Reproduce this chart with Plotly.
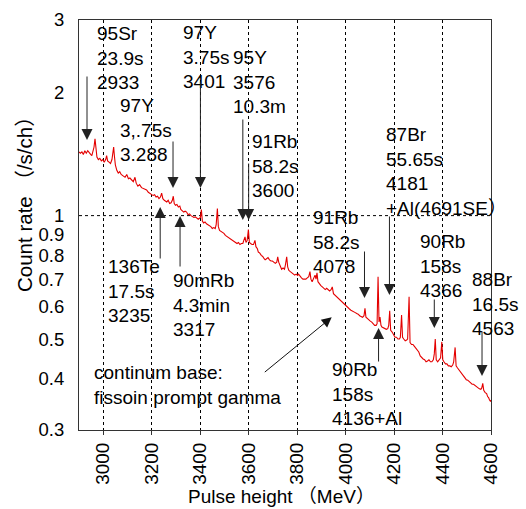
import math
import plotly.graph_objects as go

# Gamma-ray pulse-height spectrum (count rate per channel)
energy = [
    2900, 2906, 2912, 2918, 2924, 2930, 2936, 2942, 2948, 2953, 2958, 2962, 2966, 2970, 2974,
    2980, 2986, 2992, 2998, 3004, 3010, 3014, 3018, 3024, 3030, 3036, 3040, 3043, 3046, 3050,
    3056, 3062, 3068, 3074, 3082, 3090, 3097, 3104, 3110, 3118, 3124, 3131, 3136, 3143, 3150,
    3158, 3164, 3172, 3179, 3186, 3193, 3200, 3206, 3212, 3218, 3224, 3230, 3236, 3241, 3246,
    3252, 3258, 3262, 3268, 3274, 3280, 3285, 3289, 3293, 3298, 3304, 3310, 3316, 3320, 3326,
    3332, 3338, 3344, 3350, 3356, 3362, 3368, 3374, 3380, 3386, 3392, 3397, 3401, 3405, 3409,
    3414, 3420, 3426, 3432, 3438, 3444, 3450, 3456, 3462, 3466, 3471, 3475, 3480, 3486, 3492,
    3498, 3504, 3510, 3516, 3522, 3528, 3534, 3540, 3546, 3552, 3558, 3564, 3570, 3576, 3580,
    3585, 3589, 3594, 3599, 3603, 3608, 3614, 3620, 3626, 3630, 3636, 3640, 3646, 3652, 3658,
    3664, 3668, 3674, 3680, 3686, 3692, 3698, 3704, 3710, 3716, 3720, 3724, 3730, 3736, 3742,
    3748, 3752, 3757, 3761, 3766, 3772, 3778, 3784, 3790, 3796, 3802, 3806, 3812, 3818, 3824,
    3830, 3836, 3842, 3848, 3853, 3857, 3862, 3868, 3874, 3878, 3882, 3886, 3892, 3898, 3904,
    3910, 3916, 3922, 3928, 3934, 3940, 3945, 3950, 3956, 3962, 3968, 3974, 3980, 3986, 3992,
    3998, 4004, 4010, 4016, 4022, 4028, 4034, 4040, 4046, 4052, 4058, 4064, 4070, 4076, 4080,
    4084, 4090, 4096, 4102, 4108, 4114, 4120, 4126, 4130, 4134, 4138, 4142, 4146, 4150, 4156,
    4162, 4168, 4174, 4178, 4182, 4186, 4192, 4198, 4204, 4210, 4216, 4222, 4226, 4231, 4235,
    4240, 4246, 4252, 4256, 4262, 4266, 4272, 4278, 4284, 4290, 4296, 4302, 4308, 4314, 4320,
    4326, 4332, 4338, 4344, 4350, 4356, 4362, 4366, 4370, 4374, 4380, 4386, 4392, 4397, 4401,
    4406, 4412, 4418, 4424, 4430, 4436, 4442, 4446, 4452, 4456, 4462, 4468, 4474, 4480, 4486,
    4492, 4498, 4504, 4510, 4516, 4522, 4528, 4534, 4540, 4546, 4552, 4558, 4562, 4566, 4570,
    4576, 4582, 4586, 4590, 4594, 4598, 4600,
]
count_rate = [
    1.43, 1.42, 1.43, 1.41, 1.44, 1.42, 1.44, 1.42, 1.41, 1.40, 1.43, 1.47, 1.54, 1.44, 1.39,
    1.37, 1.38, 1.36, 1.37, 1.35, 1.37, 1.40, 1.36, 1.35, 1.34, 1.37, 1.43, 1.47, 1.40, 1.33,
    1.29, 1.27, 1.28, 1.26, 1.25, 1.24, 1.26, 1.23, 1.235, 1.22, 1.21, 1.24, 1.20, 1.18, 1.19,
    1.17, 1.165, 1.16, 1.155, 1.14, 1.13, 1.125, 1.12, 1.125, 1.11, 1.115, 1.10, 1.11, 1.135, 1.10,
    1.09, 1.085, 1.08, 1.09, 1.07, 1.075, 1.09, 1.115, 1.07, 1.06, 1.065, 1.05, 1.055, 1.035, 1.03,
    1.02, 1.025, 1.02, 1.005, 1.01, 1.0, 0.995, 0.99, 0.993, 0.985, 0.98, 0.985, 0.99, 1.035, 0.97,
    0.96, 0.965, 0.955, 0.95, 0.945, 0.94, 0.93, 0.935, 0.93, 0.95, 1.04, 0.94, 0.92, 0.915, 0.91,
    0.905, 0.895, 0.89, 0.885, 0.88, 0.875, 0.87, 0.865, 0.86, 0.855, 0.86, 0.85, 0.855, 0.855, 0.87,
    0.887, 0.86, 0.87, 0.925, 0.86, 0.855, 0.85, 0.85, 0.87, 0.84, 0.83, 0.815, 0.81, 0.80, 0.795,
    0.785, 0.78, 0.785, 0.79, 0.78, 0.775, 0.775, 0.77, 0.765, 0.77, 0.793, 0.77, 0.755, 0.74, 0.745,
    0.74, 0.76, 0.793, 0.75, 0.735, 0.73, 0.725, 0.72, 0.716, 0.72, 0.715, 0.72, 0.71, 0.705, 0.70,
    0.70, 0.70, 0.705, 0.71, 0.73, 0.70, 0.69, 0.70, 0.716, 0.70, 0.725, 0.69, 0.68, 0.675, 0.67,
    0.665, 0.66, 0.665, 0.66, 0.655, 0.66, 0.67, 0.645, 0.64, 0.635, 0.63, 0.622, 0.618, 0.614, 0.61,
    0.605, 0.598, 0.595, 0.592, 0.588, 0.586, 0.583, 0.58, 0.577, 0.575, 0.57, 0.566, 0.565, 0.57, 0.594,
    0.565, 0.56, 0.556, 0.553, 0.55, 0.546, 0.54, 0.54, 0.545, 0.709, 0.55, 0.566, 0.54, 0.535, 0.533,
    0.53, 0.528, 0.53, 0.54, 0.586, 0.525, 0.52, 0.51, 0.505, 0.505, 0.50, 0.50, 0.505, 0.572, 0.505,
    0.50, 0.495, 0.497, 0.50, 0.634, 0.49, 0.485, 0.485, 0.48, 0.475, 0.47, 0.465, 0.455, 0.45, 0.447,
    0.445, 0.44, 0.442, 0.445, 0.44, 0.44, 0.445, 0.46, 0.50, 0.445, 0.44, 0.445, 0.45, 0.492, 0.445,
    0.44, 0.435, 0.435, 0.43, 0.43, 0.428, 0.432, 0.44, 0.477, 0.43, 0.425, 0.42, 0.415, 0.41, 0.405,
    0.40, 0.398, 0.397, 0.394, 0.39, 0.388, 0.388, 0.385, 0.382, 0.38, 0.378, 0.377, 0.38, 0.39, 0.375,
    0.37, 0.368, 0.362, 0.36, 0.355, 0.352, 0.355,
]

x_ticks = [3000, 3200, 3400, 3600, 3800, 4000, 4200, 4400, 4600]
y_ticks = [0.3, 0.4, 0.5, 0.6, 0.7, 0.8, 0.9, 1, 2, 3]
y_tick_text = ["0.3", "0.4", "0.5", "0.6", "0.7", "0.8", "0.9", "1", "2", "3"]

# Peak identifications: nuclide / half-life / gamma energy (keV) labels
peak_labels = [
    "95Sr<br>23.9s<br>2933",
    "97Y<br>3,.75s<br>3.288",
    "97Y<br>3.75s<br>3401",
    "95Y<br>3576<br>10.3m",
    "91Rb<br>58.2s<br>3600",
    "87Br<br>55.65s<br>4181<br>+Al(4691SE）",
    "91Rb<br>58.2s<br>4078",
    "90Rb<br>158s<br>4366",
    "88Br<br>16.5s<br>4563",
    "90Rb<br>158s<br>4136+Al",
    "136Te<br>17.5s<br>3235",
    "90mRb<br>4.3min<br>3317",
]
peak_energies = [2933, 3288, 3401, 3576, 3600, 4181, 4078, 4366, 4563, 4136, 3235, 3317]
continuum_label = "continum base:<br>fissoin prompt gamma"

W, H = 526, 509
ML, MR, MT, MB = 79, 35, 20, 79
PW, PH = W - ML - MR, H - MT - MB


def px(xp):
    return (xp - ML) / PW


def py(yp):
    return (MT + PH - yp) / PH


FONT = "Liberation Sans, Arial, Noto Sans CJK JP, sans-serif"
FS = 19

fig = go.Figure()
fig.add_trace(go.Scatter(
    x=energy, y=count_rate, mode="lines",
    line=dict(color="rgb(228,0,0)", width=1.1),
    hoverinfo="skip", showlegend=False,
))

# label block placement (left edge, top edge in pixels)
label_pos = [
    (95, 21), (118, 93), (181, 20), (231, 45), (250, 129), (384, 122),
    (311, 205), (418, 229), (470, 267), (330, 357), (106, 254), (171, 268),
]
# arrow tip / tail heights in pixels for each labelled peak
arrow_y = [
    (140, 75), (188, 140), (188, 80), (220, 118), (220, 162), (295, 215),
    (298, 250), (328, 298), (376, 330), (328, 363), (207, 260), (216, 268),
]

annotations = []
for text, (lx, ty) in zip(peak_labels, label_pos):
    annotations.append(dict(
        text=text, xref="paper", yref="paper", x=px(lx), y=py(ty),
        xanchor="left", yanchor="top", align="left", showarrow=False,
        font=dict(family=FONT, size=FS, color="black"),
    ))
for e, (tip, tail) in zip(peak_energies, arrow_y):
    annotations.append(dict(
        text="", xref="x", yref="paper", x=e, y=py(tip),
        ax=0, ay=tail - tip, showarrow=True,
        arrowhead=2, arrowsize=2.2, arrowwidth=1, arrowcolor="#222",
    ))

annotations.append(dict(
    text=continuum_label, xref="paper", yref="paper", x=px(92), y=py(360),
    xanchor="left", yanchor="top", align="left", showarrow=False,
    font=dict(family=FONT, size=FS, color="black"),
))
annotations.append(dict(
    text="", xref="paper", yref="paper", x=px(331.7), y=py(317.3),
    ax=263.3 - 331.7, ay=373.3 - 317.3, showarrow=True,
    arrowhead=2, arrowsize=2, arrowwidth=1, arrowcolor="#111",
))
# axis titles
annotations.append(dict(
    text="Count rate （/s/ch）", xref="paper", yref="paper", x=px(24), y=py(199),
    xanchor="center", yanchor="middle", textangle=-90, showarrow=False,
    font=dict(family=FONT, size=20.5, color="black"),
))
annotations.append(dict(
    text="Pulse height （MeV）", xref="paper", yref="paper", x=px(281), y=py(497),
    xanchor="center", yanchor="middle", showarrow=False,
    font=dict(family=FONT, size=FS, color="black"),
))

fig.update_layout(
    width=W, height=H,
    margin=dict(l=ML, r=MR, t=MT, b=MB, pad=0),
    paper_bgcolor="white", plot_bgcolor="white",
    font=dict(family=FONT, size=FS, color="black"),
    annotations=annotations,
    shapes=[dict(
        type="line", xref="paper", yref="y", x0=0, x1=1, y0=1, y1=1,
        line=dict(color="black", width=1, dash="dot"), layer="below",
    )],
    xaxis=dict(
        range=[2900, 4600], tickvals=x_ticks, tickangle=-90, automargin=False,
        showgrid=True, gridcolor="black", gridwidth=1, griddash="dot",
        showline=True, linecolor="#333", linewidth=1, mirror=True,
        ticks="outside", ticklen=4, tickcolor="#333", zeroline=False,
        tickfont=dict(family=FONT, size=FS),
    ),
    yaxis=dict(
        type="log", range=[math.log10(0.3), math.log10(3)], automargin=False,
        tickvals=y_ticks, ticktext=y_tick_text, showgrid=False,
        showline=True, linecolor="#333", linewidth=1, mirror=True,
        ticks="", zeroline=False, ticklabelstandoff=10,
        tickfont=dict(family=FONT, size=18.5),
    ),
)

fig.write_html("out.html")
